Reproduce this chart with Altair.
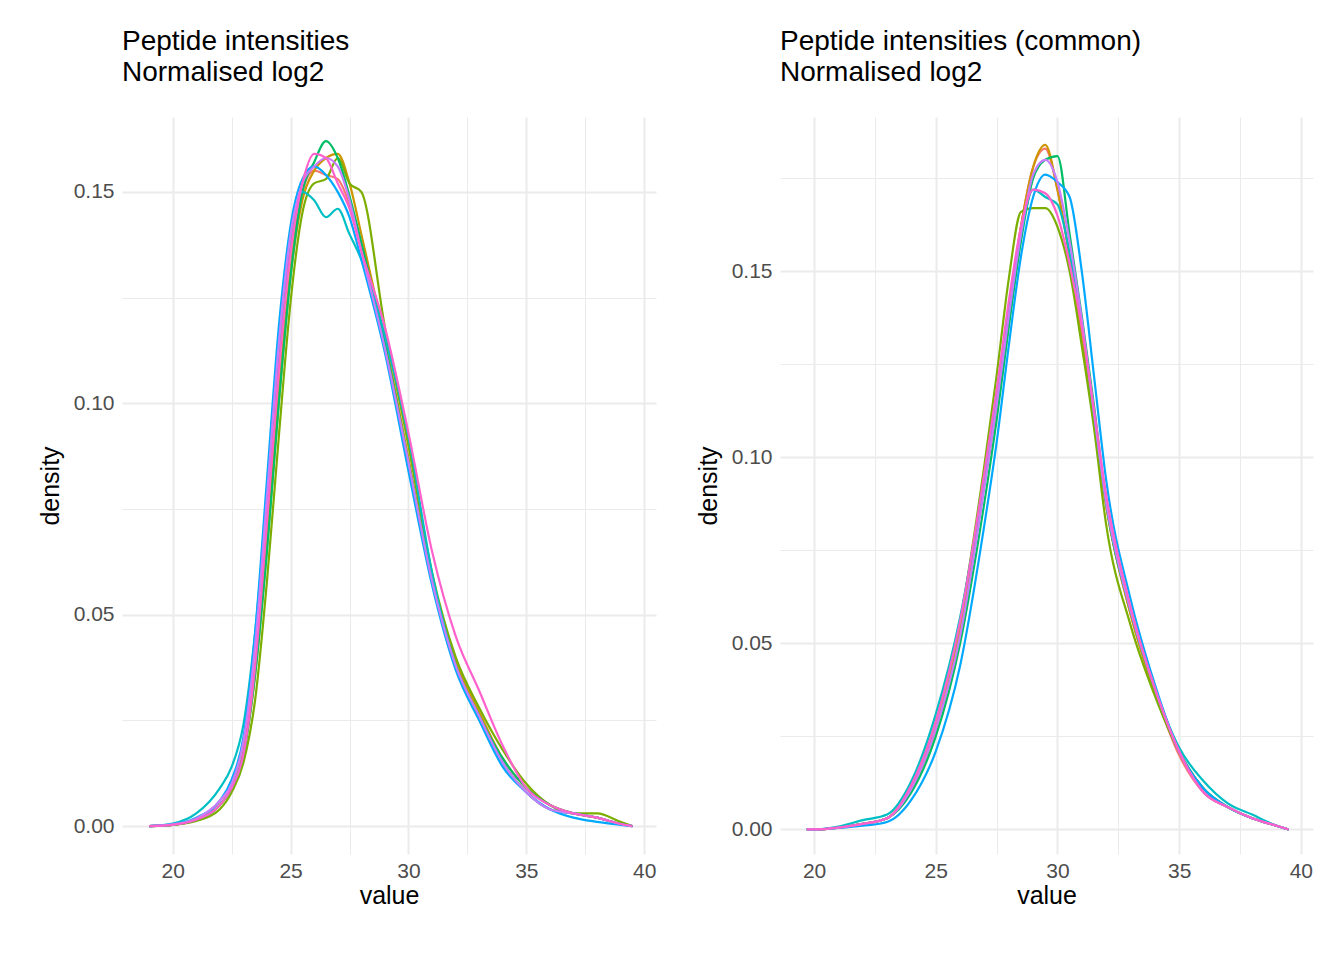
import altair as alt
import pandas as pd

samples = ["S1", "S2", "S3", "S4", "S5", "S6", "S7", "S8"]
colours = ["#F8766D", "#CD9600", "#7CAE00", "#00BE67", "#00BFC4", "#00A9FF", "#C77CFF", "#FF61CC"]

# left panel: all peptides
x_all = [19, 20, 21, 22, 22.5, 23, 23.5, 24, 24.5, 25, 25.5, 26, 26.5, 27, 27.5, 28,
         29, 30, 31, 32, 33, 34, 35, 36, 37, 38, 39, 39.5]
y_all = {
    "S1": [0, 0.0003, 0.0015, 0.005, 0.009, 0.018, 0.038, 0.068, 0.103, 0.132, 0.150, 0.155, 0.154, 0.153, 0.147, 0.137, 0.113, 0.085, 0.058, 0.038, 0.026, 0.015, 0.008, 0.004, 0.003, 0.002, 0.0005, 0],
    "S2": [0, 0.0003, 0.0015, 0.005, 0.009, 0.017, 0.036, 0.066, 0.100, 0.130, 0.148, 0.155, 0.158, 0.159, 0.152, 0.140, 0.115, 0.087, 0.058, 0.039, 0.027, 0.016, 0.009, 0.005, 0.003, 0.002, 0.0005, 0],
    "S3": [0, 0.0003, 0.0012, 0.004, 0.008, 0.015, 0.030, 0.058, 0.092, 0.124, 0.145, 0.152, 0.153, 0.158, 0.152, 0.150, 0.118, 0.090, 0.060, 0.040, 0.028, 0.018, 0.010, 0.005, 0.003, 0.003, 0.001, 0],
    "S4": [0, 0.0003, 0.0015, 0.005, 0.009, 0.017, 0.036, 0.065, 0.100, 0.130, 0.150, 0.157, 0.162, 0.158, 0.149, 0.138, 0.114, 0.086, 0.058, 0.038, 0.026, 0.016, 0.009, 0.005, 0.003, 0.002, 0.0005, 0],
    "S5": [0, 0.0006, 0.0030, 0.009, 0.014, 0.024, 0.046, 0.078, 0.112, 0.138, 0.150, 0.148, 0.144, 0.146, 0.140, 0.134, 0.116, 0.092, 0.060, 0.038, 0.026, 0.015, 0.008, 0.004, 0.003, 0.002, 0.0005, 0],
    "S6": [0, 0.0004, 0.0020, 0.006, 0.011, 0.021, 0.046, 0.082, 0.118, 0.142, 0.153, 0.156, 0.154, 0.150, 0.144, 0.134, 0.112, 0.084, 0.057, 0.037, 0.025, 0.014, 0.008, 0.004, 0.002, 0.001, 0.0003, 0],
    "S7": [0, 0.0004, 0.0018, 0.006, 0.010, 0.020, 0.043, 0.078, 0.114, 0.140, 0.152, 0.156, 0.158, 0.156, 0.148, 0.136, 0.113, 0.086, 0.058, 0.038, 0.026, 0.015, 0.008, 0.004, 0.003, 0.002, 0.0005, 0],
    "S8": [0, 0.0003, 0.0015, 0.005, 0.009, 0.017, 0.038, 0.072, 0.108, 0.136, 0.152, 0.159, 0.158, 0.152, 0.146, 0.136, 0.118, 0.093, 0.065, 0.045, 0.032, 0.019, 0.009, 0.005, 0.003, 0.002, 0.0005, 0],
}

# right panel: common peptides
x_com = [19.7, 20, 21, 22, 23, 24, 25, 26, 27, 27.5, 28, 28.5, 29, 29.5, 30, 30.5, 31, 31.5,
         32, 33, 34, 35, 36, 37, 38, 39, 39.5]
y_com = {
    "S1": [0, 0, 0.0005, 0.0015, 0.003, 0.011, 0.027, 0.053, 0.093, 0.114, 0.139, 0.162, 0.178, 0.183, 0.172, 0.154, 0.133, 0.110, 0.087, 0.058, 0.037, 0.020, 0.010, 0.006, 0.003, 0.001, 0],
    "S2": [0, 0, 0.0005, 0.0015, 0.003, 0.011, 0.027, 0.053, 0.093, 0.114, 0.139, 0.162, 0.178, 0.184, 0.172, 0.154, 0.133, 0.110, 0.087, 0.058, 0.037, 0.021, 0.010, 0.006, 0.003, 0.001, 0],
    "S3": [0, 0, 0.0005, 0.0015, 0.003, 0.012, 0.029, 0.056, 0.098, 0.122, 0.148, 0.166, 0.167, 0.167, 0.162, 0.150, 0.130, 0.108, 0.082, 0.055, 0.036, 0.021, 0.011, 0.006, 0.003, 0.001, 0],
    "S4": [0, 0, 0.0005, 0.0015, 0.003, 0.010, 0.025, 0.050, 0.088, 0.110, 0.135, 0.158, 0.175, 0.180, 0.181, 0.160, 0.138, 0.114, 0.088, 0.059, 0.038, 0.021, 0.011, 0.006, 0.003, 0.001, 0],
    "S5": [0, 0, 0.0008, 0.0025, 0.004, 0.013, 0.031, 0.057, 0.095, 0.117, 0.140, 0.160, 0.172, 0.170, 0.168, 0.155, 0.136, 0.112, 0.088, 0.059, 0.038, 0.022, 0.013, 0.007, 0.004, 0.001, 0],
    "S6": [0, 0, 0.0004, 0.0010, 0.002, 0.008, 0.021, 0.044, 0.082, 0.104, 0.130, 0.154, 0.170, 0.176, 0.174, 0.170, 0.150, 0.122, 0.094, 0.062, 0.039, 0.021, 0.011, 0.006, 0.003, 0.001, 0],
    "S7": [0, 0, 0.0005, 0.0015, 0.003, 0.011, 0.027, 0.052, 0.092, 0.114, 0.138, 0.160, 0.176, 0.180, 0.174, 0.158, 0.137, 0.112, 0.088, 0.059, 0.038, 0.021, 0.010, 0.006, 0.003, 0.001, 0],
    "S8": [0, 0, 0.0005, 0.0015, 0.003, 0.012, 0.029, 0.056, 0.096, 0.118, 0.142, 0.162, 0.172, 0.171, 0.165, 0.152, 0.135, 0.113, 0.090, 0.060, 0.038, 0.021, 0.010, 0.006, 0.003, 0.001, 0],
}


def long_df(xs, ys):
    rows = []
    for s in samples:
        for x, y in zip(xs, ys[s]):
            rows.append({"value": x, "density": y, "sample": s})
    return pd.DataFrame(rows)


grid_w = {"condition": {"test": "datum.value % 5 == 0", "value": 2}, "value": 1}


def panel(df, title, xdom, ydom, yvals, w):
    xax = alt.Axis(values=[20, 22.5, 25, 27.5, 30, 32.5, 35, 37.5, 40],
                   labelExpr="datum.value % 5 == 0 ? datum.label : ''",
                   gridWidth=grid_w, ticks=False, domain=False, titleFontSize=25,
                   labelFontSize=21, labelColor="#4D4D4D", titleFontWeight="normal",
                   titleColor="black", labelPadding=6, titlePadding=2)
    yax = alt.Axis(values=yvals, format=".2f",
                   labelExpr="round(datum.value * 1000) % 50 == 0 ? datum.label : ''",
                   gridWidth={"condition": {"test": "round(datum.value * 1000) % 50 == 0", "value": 2}, "value": 1},
                   ticks=False, domain=False, titleFontSize=25, labelFontSize=21,
                   labelColor="#4D4D4D", titleFontWeight="normal", titleColor="black",
                   labelPadding=8, titlePadding=10)
    return alt.Chart(df).mark_line(interpolate="monotone", strokeWidth=2.2, clip=True).encode(
        x=alt.X("value:Q", scale=alt.Scale(domain=xdom, nice=False, zero=False), axis=xax),
        y=alt.Y("density:Q", scale=alt.Scale(domain=ydom, nice=False, zero=False), axis=yax),
        color=alt.Color("sample:N", scale=alt.Scale(domain=samples, range=colours), legend=None),
    ).properties(
        width=w, height=737,
        title=alt.TitleParams(title, anchor="start", fontSize=28, fontWeight="normal",
                              frame="group", offset=30, lineHeight=31)
    )


left = panel(long_df(x_all, y_all), ["Peptide intensities", "Normalised log2"],
             [17.85, 40.5], [-0.0066, 0.1677],
             [0, 0.025, 0.05, 0.075, 0.1, 0.125, 0.15], 534)
right = panel(long_df(x_com, y_com), ["Peptide intensities (common)", "Normalised log2"],
              [18.6, 40.5], [-0.0066, 0.1915],
              [0, 0.025, 0.05, 0.075, 0.1, 0.125, 0.15, 0.175], 533)

chart = alt.hconcat(left, right, spacing=40).properties(
    background="white", padding={"left": 30, "top": 20, "right": 5, "bottom": 5}
).configure_view(stroke=None).configure_axis(
    gridColor="#EBEBEB", labelFont="Liberation Sans", titleFont="Liberation Sans"
).configure_title(font="Liberation Sans", color="black")

chart.save("out.html", embed_options={"renderer": "svg", "actions": False})
